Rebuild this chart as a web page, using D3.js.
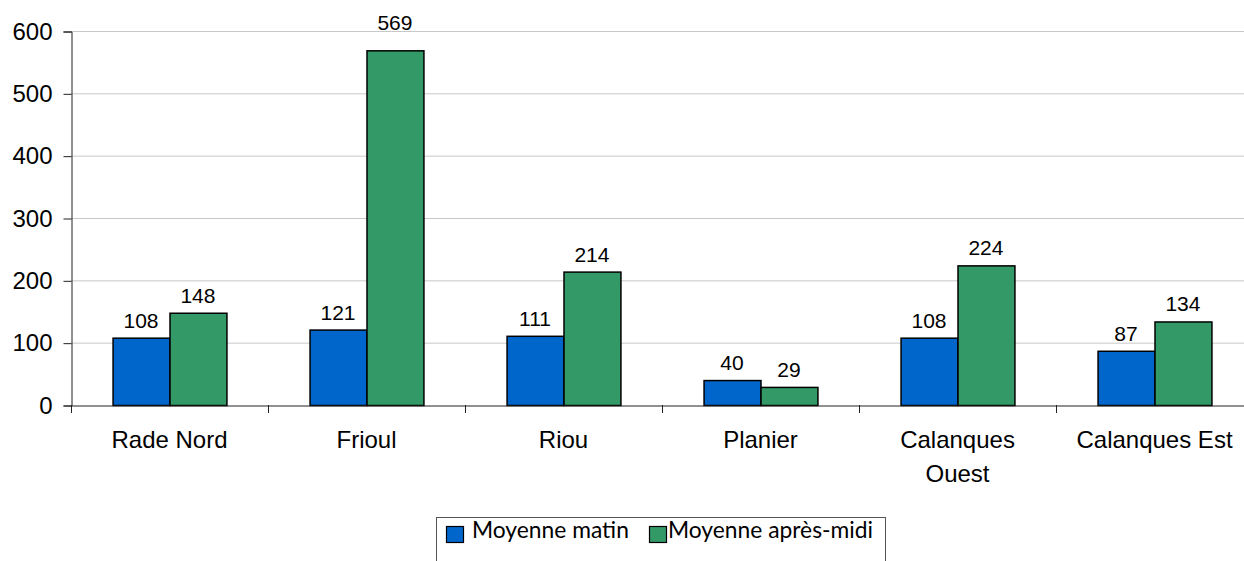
<!DOCTYPE html>
<html><head><meta charset="utf-8">
<script src="https://cdn.jsdelivr.net/npm/d3@7"></script>
<style>html,body{margin:0;padding:0;background:#fff;overflow:hidden}</style>
</head><body>
<svg id="c" width="1244" height="561"></svg>
<script>
const categories = ["Rade Nord", "Frioul", "Riou", "Planier", "Calanques Ouest", "Calanques Est"];
const categoryLines = [["Rade Nord"], ["Frioul"], ["Riou"], ["Planier"], ["Calanques", "Ouest"], ["Calanques Est"]];
const seriesNames = ["Moyenne matin", "Moyenne après-midi"];
const matin = [108, 121, 111, 40, 108, 87];
const apresMidi = [148, 569, 214, 29, 224, 134];
const yTicks = [0, 100, 200, 300, 400, 500, 600];
const colors = ["#0066CC", "#339966"];

(function () {
const svg = d3.select("#c");
const pLeft = 71, pRight = 1253, pTop = 31, pBottom = 405;

const x = d3.scaleBand().domain(categories).range([pLeft, pRight]).paddingInner(0).paddingOuter(0);
const inner = d3.scaleBand().domain([0, 1]).range([0, x.bandwidth()]).paddingInner(0).paddingOuter(0.73);
const y = d3.scaleLinear().domain([0, 600]).range([pBottom, pTop]);

// gridlines
svg.append("g").selectAll("line").data(yTicks.filter(t => t > 0)).join("line")
  .attr("x1", pLeft).attr("x2", pRight)
  .attr("y1", d => y(d) + 0.5).attr("y2", d => y(d) + 0.5)
  .attr("stroke", "#c8c8c8").attr("stroke-width", 1);

// y axis
const yAxis = d3.axisLeft(y).tickValues(yTicks).tickSize(8).tickPadding(11);
const yg = svg.append("g").attr("transform", "translate(" + (pLeft + 0.5) + ",0.5)").call(yAxis);
yg.select(".domain").attr("stroke", "#222");
yg.selectAll(".tick line").attr("stroke", "#222");
yg.selectAll(".tick text").attr("font-family", "Liberation Sans, Arial, sans-serif").attr("font-size", 24).attr("fill", "#000");

// bars
const data = categories.map((c, i) => ({c, vals: [matin[i], apresMidi[i]]}));
const groups = svg.append("g").selectAll("g").data(data).join("g")
  .attr("transform", d => "translate(" + x(d.c) + ",0)");
groups.selectAll("rect").data(d => d.vals.map((v, k) => ({v, k}))).join("rect")
  .attr("x", d => inner(d.k) + 0.5)
  .attr("y", d => y(d.v) + 0.5)
  .attr("width", inner.bandwidth())
  .attr("height", d => y(0) - y(d.v))
  .attr("fill", d => colors[d.k])
  .attr("stroke", "#000").attr("stroke-width", 1.5);

const maxVal = d3.max(apresMidi.concat(matin));
groups.selectAll("text.lbl").data(d => d.vals.map((v, k) => ({v, k}))).join("text")
  .attr("class", "lbl")
  .attr("x", d => inner(d.k) + inner.bandwidth() / 2)
  .attr("y", d => d.v === maxVal ? y(600) - 1 : y(d.v) - 10)
  .attr("text-anchor", "middle")
  .attr("font-family", "Liberation Sans, Arial, sans-serif").attr("font-size", 21).attr("fill", "#000")
  .text(d => d.v);

// x axis
const xAxis = d3.axisBottom(x).tickSize(0).tickFormat("");
const xg = svg.append("g").attr("transform", "translate(0," + (pBottom + 0.5) + ")").call(xAxis);
xg.select(".domain").attr("stroke", "#222");
const boundaries = categories.map(c => x(c)).concat([x(categories[categories.length - 1]) + x.bandwidth()]);
svg.append("g").selectAll("line").data(boundaries).join("line")
  .attr("x1", d => Math.round(d) + 0.5).attr("x2", d => Math.round(d) + 0.5)
  .attr("y1", pBottom).attr("y2", pBottom + 8)
  .attr("stroke", "#222");

// category labels
const cl = svg.append("g").selectAll("text").data(categories).join("text")
  .attr("x", c => x(c) + x.bandwidth() / 2)
  .attr("y", 448)
  .attr("text-anchor", "middle")
  .attr("font-family", "Liberation Sans, Arial, sans-serif").attr("font-size", 24).attr("fill", "#000");
cl.each(function(c, i) {
  const t = d3.select(this);
  categoryLines[i].forEach((line, j) => {
    t.append("tspan").attr("x", x(c) + x.bandwidth() / 2).attr("dy", j === 0 ? 0 : 34).text(line);
  });
});

// legend
const lg = svg.append("g");
lg.append("rect").attr("x", 436.5).attr("y", 517.5).attr("width", 449).attr("height", 60)
  .attr("fill", "#fff").attr("stroke", "#555").attr("stroke-width", 1);
const legX = [446, 649];
const legTextX = [472, 668];
seriesNames.forEach((n, i) => {
  lg.append("rect").attr("x", legX[i] + 0.5).attr("y", 526.5).attr("width", 17).attr("height", 16)
    .attr("fill", colors[i]).attr("stroke", "#000").attr("stroke-width", 1.2);
  lg.append("text").attr("x", legTextX[i]).attr("y", 537.5)
    .attr("font-family", "Lato, 'Open Sans', sans-serif").attr("font-size", 22.8).attr("fill", "#000")
    .text(n);
});
})();
</script>
</body></html>
